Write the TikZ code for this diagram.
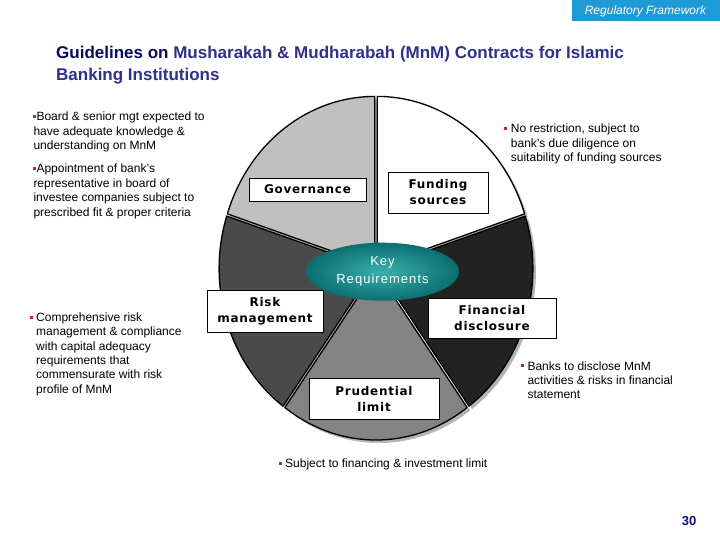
\documentclass[tikz,border=0pt]{standalone}
\usepackage{fontspec}
\setmainfont{Liberation Sans}
\newfontfamily\labfont[LetterSpace=6]{DejaVu Sans}
\newfontfamily\keyfont[LetterSpace=8]{Liberation Sans}
\usetikzlibrary{shapes.geometric}
\definecolor{hdrblue}{HTML}{1E9AD6}
\definecolor{ttlnavy}{HTML}{0A0A5E}
\definecolor{ttlblue}{HTML}{30308A}
\definecolor{pgnavy}{HTML}{0A0A80}
\definecolor{bred}{HTML}{C0262C}
\definecolor{govgray}{HTML}{C0C0C0}
\definecolor{riskgray}{HTML}{4A4A4A}
\definecolor{prudgray}{HTML}{838383}
\definecolor{findark}{HTML}{222222}
\definecolor{shadowgray}{HTML}{B4B4B4}
\definecolor{tealin}{HTML}{3AB0AE}
\definecolor{tealout}{HTML}{0B6F70}
\newcommand\bul{\textcolor{bred}{\rule[2.6pt]{3pt}{3pt}}}
\newcommand\hbul{\llap{\bul\hspace{3.5pt}}}
\newcommand\pieslice[5]{%
  \fill[shadowgray] ({376+#4+3},{268+#5+3}) -- plot[domain=#1:#2, samples=50] ({376+#4+3+155*cos(\x)},{268+#5+3-170*sin(\x)}) -- cycle;}
\newcommand\piefront[5]{%
  \filldraw[slice, fill=#3] ({376+#4},{268+#5}) -- plot[domain=#1:#2, samples=50] ({376+#4+155*cos(\x)},{268+#5-170*sin(\x)}) -- cycle;}
\begin{document}
\begin{tikzpicture}[x=1pt,y=-1pt,
  slice/.style={draw=black, line width=1.3pt, line join=round},
  lab/.style={draw=black, fill=white, line width=0.8pt, inner sep=0pt, align=center,
    font=\labfont\bfseries\fontsize{12}{16}\selectfont},
  btext/.style={anchor=north west, inner sep=0pt, align=left,
    font=\fontsize{12}{14.4}\selectfont}]
\useasboundingbox (0,0) rectangle (720,540);
\fill[white] (0,0) rectangle (720,540);
% header
\fill[hdrblue] (572,0) rectangle (720,21);
\node[text=white, inner sep=0pt, font=\fontsize{12}{14}\selectfont\itshape] (hdr) at (645.5,11) {Regulatory Framework};
% title
\node[anchor=north west, inner sep=0pt, align=left, font=\fontsize{17}{22.5}\selectfont\bfseries] (title) at (56,45.6)
  {\textcolor{ttlnavy}{Guidelines on} \textcolor{ttlblue}{Musharakah \& Mudharabah (MnM) Contracts for Islamic}\\\textcolor{ttlblue}{Banking Institutions}};
% pie shadows
\pieslice{18}{90}{white}{1.2}{-1.6}
\pieslice{90}{162}{govgray}{-1.2}{-1.6}
\pieslice{162}{234}{riskgray}{-1.9}{0.6}
\pieslice{234}{306}{prudgray}{0}{2}
\pieslice{306}{378}{findark}{1.9}{0.6}
% pie slices
\piefront{18}{90}{white}{1.2}{-1.6}
\piefront{90}{162}{govgray}{-1.2}{-1.6}
\piefront{162}{234}{riskgray}{-1.9}{0.6}
\piefront{234}{306}{prudgray}{0}{2}
\piefront{306}{378}{findark}{1.9}{0.6}
% key requirements
\node[ellipse, minimum width=153pt, minimum height=58pt, inner sep=0pt, shading=radial,
  inner color=tealin, outer color=tealout, text=white, align=center,
  font=\keyfont\fontsize{13}{18}\selectfont] (key) at (382.5,271.7) {Key\\Requirements};
% labels
\node[lab, minimum width=117pt, minimum height=23pt] (gov) at (307.5,189.5) {Governance};
\node[lab, minimum width=100pt, minimum height=41pt] (fund) at (438,192.5) {Funding\\sources};
\node[lab, minimum width=116pt, minimum height=42pt] (risk) at (265,311) {Risk\\management};
\node[lab, minimum width=128pt, minimum height=40pt] (fin) at (492,318) {Financial\\disclosure};
\node[lab, minimum width=130pt, minimum height=41pt] (prud) at (374,398.5) {Prudential\\limit};
% bullet texts
\node[btext] (b1) at (33.3,112) {\bul Board \& senior mgt expected to\\have adequate knowledge \&\\understanding on MnM};
\node[btext] (b2) at (33.3,164) {\bul Appointment of bank's\\representative in board of\\investee companies subject to\\prescribed fit \& proper criteria};
\node[btext] (b3) at (510.7,124) {\hbul No restriction, subject to\\bank's due diligence on\\suitability of funding sources};
\node[btext] (b4) at (36,312.5) {\hbul Comprehensive risk\\management \& compliance\\with capital adequacy\\requirements that\\commensurate with risk\\profile of MnM};
\node[btext] (b5) at (527.3,361.2) {\hbul Banks to disclose MnM\\activities \& risks in financial\\statement};
\node[btext] (b6) at (285,458.5) {\hbul Subject to financing \& investment limit};
% page number
\node[inner sep=0pt, text=pgnavy, font=\bfseries\fontsize{13}{15}\selectfont] (pg) at (689,521) {30};
\end{tikzpicture}
\end{document}
